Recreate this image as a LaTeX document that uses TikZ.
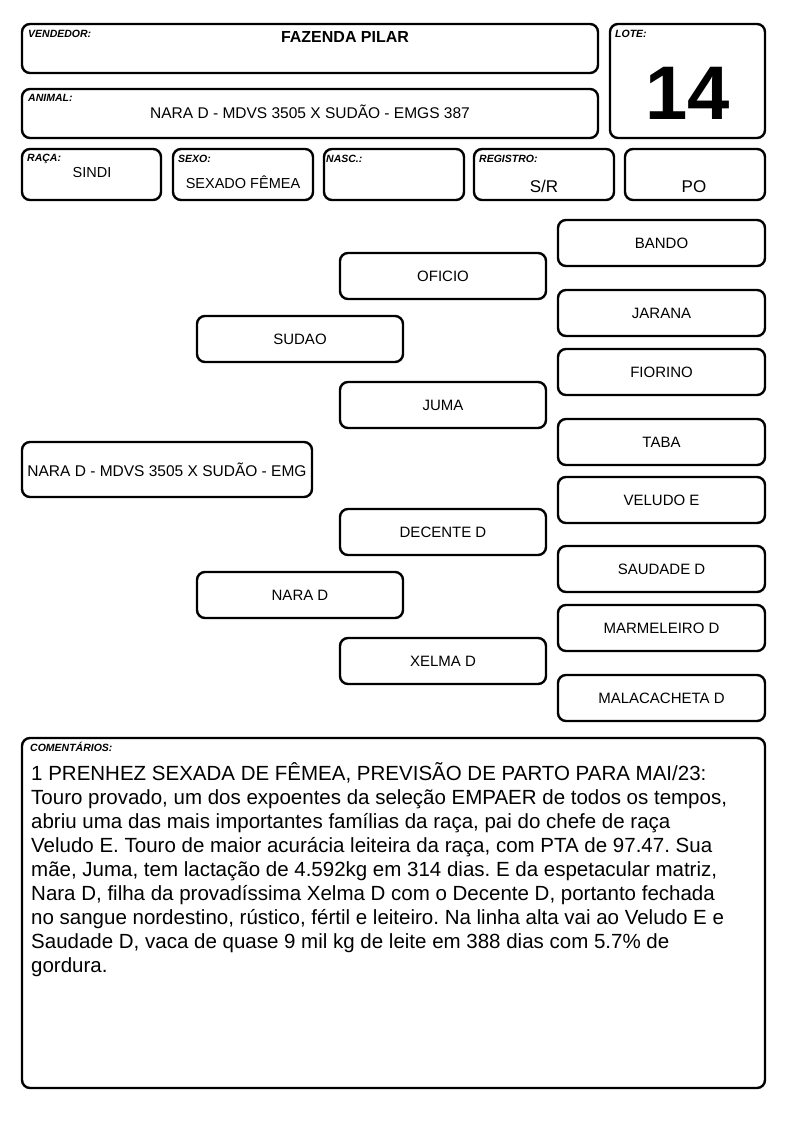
\documentclass[tikz,border=0pt]{standalone}
\usepackage{fontspec}
\setmainfont{Liberation Sans}
\frenchspacing
\begin{document}
\begin{tikzpicture}[x=1pt, y=-1pt,
			fieldbox/.style={draw=black, fill=white, rounded corners=8pt, line width=2.4pt, inner sep=0pt},
			pedbox/.style={fieldbox, minimum width=206pt, minimum height=46pt, font=\fontsize{15}{18}\selectfont},
			tag/.style={anchor=base west, inner sep=0pt, font=\fontsize{10.5}{12}\selectfont\bfseries\itshape},
			value/.style={anchor=base, inner sep=0pt, font=\fontsize{15.5}{18}\selectfont},
		]
		
			%Page
			\useasboundingbox[fill=white] (0,0) rectangle (794,1123);
		
			%Header boxes
			\node[fieldbox, minimum width=576pt, minimum height=49pt]	(vendedor)	at (310,48.5)	{};
			\node[fieldbox, minimum width=155pt, minimum height=114pt]	(lote)		at (687.5,81)	{};
			\node[fieldbox, minimum width=576pt, minimum height=49pt]	(animal)	at (310,113.5)	{};
			\node[fieldbox, minimum width=139pt, minimum height=51pt]	(raca)		at (91.5,174.5)	{};
			\node[fieldbox, minimum width=140pt, minimum height=51pt]	(sexo)		at (243,174.5)	{};
			\node[fieldbox, minimum width=140pt, minimum height=51pt]	(nasc)		at (394,174.5)	{};
			\node[fieldbox, minimum width=140pt, minimum height=51pt]	(registro)	at (544,174.5)	{};
			\node[fieldbox, minimum width=140pt, minimum height=51pt]	(po)		at (695,174.5)	{};
		
			%Header tags
			\node[tag]	(vendedortag)	at (28,38)	{VENDEDOR:};
			\node[tag]	(lotetag)		at (615,38)	{LOTE:};
			\node[tag]	(animaltag)		at (28,102)	{ANIMAL:};
			\node[tag]	(racatag)		at (27,162)	{RAÇA:};
			\node[tag]	(sexotag)		at (178,163)	{SEXO:};
			\node[tag]	(nasctag)		at (326,163)	{NASC.:};
			\node[tag]	(registrotag)	at (479,163)	{REGISTRO:};
		
			%Header values
			\node[value, font=\fontsize{16}{18}\selectfont\bfseries]	(vendedorval)	at (345,43)	{FAZENDA PILAR};
			\node[value, font=\fontsize{76}{80}\selectfont\bfseries]	(loteval)		at (688,120)	{14};
			\node[value]	(animalval)		at (310,119)	{NARA D - MDVS 3505 X SUDÃO - EMGS 387};
			\node[value, font=\fontsize{14.5}{17}\selectfont]	(racaval)		at (92,178)	{SINDI};
			\node[value, font=\fontsize{14.5}{17}\selectfont]	(sexoval)		at (243,189)	{SEXADO FÊMEA};
			\node[value, font=\fontsize{17}{20}\selectfont]	(registroval)	at (544,193)	{S/R};
			\node[value, font=\fontsize{17}{20}\selectfont]	(poval)			at (694,193)	{PO};
		
			%Pedigree
			\node[pedbox, minimum width=290pt, minimum height=55pt, font=\fontsize{15.5}{18}\selectfont]	(self)	at (167,469.5)	{NARA D - MDVS 3505 X SUDÃO - EMG};
			\node[pedbox]	(sudao)			at (300,339)	{SUDAO};
			\node[pedbox]	(narad)			at (300,595)	{NARA D};
			\node[pedbox]	(oficio)		at (443,276)	{OFICIO};
			\node[pedbox]	(juma)			at (443,405)	{JUMA};
			\node[pedbox]	(decente)		at (443,532)	{DECENTE D};
			\node[pedbox]	(xelma)			at (443,661)	{XELMA D};
			\node[pedbox, minimum width=207pt]	(bando)			at (661.5,243)	{BANDO};
			\node[pedbox, minimum width=207pt]	(jarana)		at (661.5,313)	{JARANA};
			\node[pedbox, minimum width=207pt]	(fiorino)		at (661.5,372)	{FIORINO};
			\node[pedbox, minimum width=207pt]	(taba)			at (661.5,442)	{TABA};
			\node[pedbox, minimum width=207pt]	(veludo)		at (661.5,500)	{VELUDO E};
			\node[pedbox, minimum width=207pt]	(saudade)		at (661.5,569)	{SAUDADE D};
			\node[pedbox, minimum width=207pt]	(marmeleiro)	at (661.5,628)	{MARMELEIRO D};
			\node[pedbox, minimum width=207pt]	(malacacheta)	at (661.5,698)	{MALACACHETA D};
		
			%Comments
			\node[fieldbox, minimum width=743pt, minimum height=350pt]	(comentarios)	at (393.5,913)	{};
			\node[tag]	(comentariostag)	at (30,751)	{COMENTÁRIOS:};
			\node[anchor=north west, inner sep=0pt, align=left, font=\fontsize{20.5}{24}\selectfont]	(comentariostxt)	at (31,762)
				{1 PRENHEZ SEXADA DE FÊMEA, PREVISÃO DE PARTO PARA MAI/23:\\
				Touro provado, um dos expoentes da seleção EMPAER de todos os tempos,\\
				abriu uma das mais importantes famílias da raça, pai do chefe de raça\\
				Veludo E. Touro de maior acurácia leiteira da raça, com PTA de 97.47. Sua\\
				mãe, Juma, tem lactação de 4.592kg em 314 dias. E da espetacular matriz,\\
				Nara D, filha da provadíssima Xelma D com o Decente D, portanto fechada\\
				no sangue nordestino, rústico, fértil e leiteiro. Na linha alta vai ao Veludo E e\\
				Saudade D, vaca de quase 9 mil kg de leite em 388 dias com 5.7\% de\\
				gordura.};
		
		\end{tikzpicture}
\end{document}
